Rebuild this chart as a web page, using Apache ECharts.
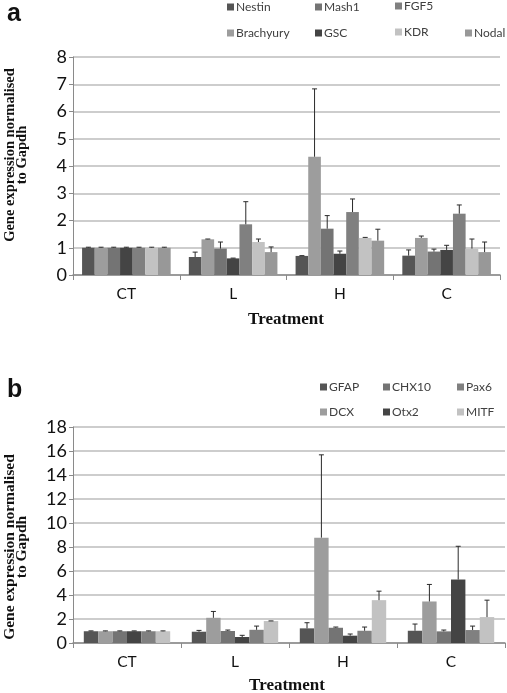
<!DOCTYPE html>
<html><head><meta charset="utf-8">
<script src="https://cdn.jsdelivr.net/npm/echarts@6/dist/echarts.min.js"></script>
<style>html,body{margin:0;padding:0;background:#fff}#c{width:507px;height:693px}</style>
</head><body><div id="c"></div>
<script>
// ---- Data ----
const categories = ['CT', 'L', 'H', 'C'];

// Panel a (bar order in each group)
const seriesA = ['Nestin', 'Brachyury', 'Mash1', 'GSC', 'FGF5', 'KDR', 'Nodal'];
const nestin    = [1, 0.66, 0.70, 0.71];
const brachyury = [1, 1.31, 4.34, 1.36];
const mash1     = [1, 0.97, 1.70, 0.86];
const gsc       = [1, 0.61, 0.78, 0.92];
const fgf5      = [1, 1.86, 2.31, 2.25];
const kdr       = [1, 1.21, 1.36, 0.97];
const nodal     = [1, 0.84, 1.26, 0.84];
const nestinErr    = [0.02, 0.18, 0.01, 0.21];
const brachyuryErr = [0.02, 0.01, 2.49, 0.07];
const mash1Err     = [0.02, 0.24, 0.48, 0.09];
const gscErr       = [0.02, 0.01, 0.10, 0.17];
const fgf5Err      = [0.02, 0.83, 0.48, 0.32];
const kdrErr       = [0.02, 0.11, 0.02, 0.35];
const nodalErr     = [0.02, 0.19, 0.42, 0.37];
const yTicksA = [0, 1, 2, 3, 4, 5, 6, 7, 8];

// Panel b
const seriesB = ['GFAP', 'DCX', 'CHX10', 'Otx2', 'Pax6', 'MITF'];
const gfap  = [0.98, 0.94, 1.22, 1.02];
const dcx   = [0.98, 2.10, 8.78, 3.46];
const chx10 = [0.98, 1.00, 1.27, 0.97];
const otx2  = [0.98, 0.50, 0.61, 5.29];
const pax6  = [0.98, 1.10, 1.02, 1.08];
const mitf  = [0.98, 1.83, 3.57, 2.16];
const gfapErr  = [0.03, 0.11, 0.47, 0.56];
const dcxErr   = [0.03, 0.53, 6.90, 1.42];
const chx10Err = [0.03, 0.08, 0.06, 0.11];
const otx2Err  = [0.03, 0.14, 0.14, 2.77];
const pax6Err  = [0.03, 0.31, 0.31, 0.33];
const mitfErr  = [0.03, 0.01, 0.75, 1.41];
const yTicksB = [0, 2, 4, 6, 8, 10, 12, 14, 16, 18];

// ---- Styles ----
const valsA = [nestin, brachyury, mash1, gsc, fgf5, kdr, nodal];
const errsA = [nestinErr, brachyuryErr, mash1Err, gscErr, fgf5Err, kdrErr, nodalErr];
const colorsA = ['#555555', '#9d9d9d', '#747474', '#444444', '#808080', '#c2c2c2', '#989898'];
const valsB = [gfap, dcx, chx10, otx2, pax6, mitf];
const errsB = [gfapErr, dcxErr, chx10Err, otx2Err, pax6Err, mitfErr];
const colorsB = ['#555555', '#9d9d9d', '#747474', '#444444', '#808080', '#c2c2c2'];

const FONT = 'Lato';
const gapA = 0.17, gapB = 0.20;

function errRender(idx, n, gap) {
  return function (params, api) {
    const cat = api.value(0), v = api.value(1), e = api.value(2);
    const band = api.size([1, 0])[0];
    const groupW = band * (1 - gap);
    const bw = groupW / n;
    const base = api.coord([cat, v]);
    const x = base[0] - groupW / 2 + bw * (idx + 0.5);
    const yTop = api.coord([cat, v + e])[1];
    const st = { stroke: '#2a2a2a', lineWidth: 1 };
    return { type: 'group', children: [
      { type: 'line', shape: { x1: x, y1: base[1], x2: x, y2: yTop }, style: st },
      { type: 'line', shape: { x1: x - 2.5, y1: yTop, x2: x + 2.5, y2: yTop }, style: st }
    ] };
  };
}

const series = [];
seriesA.forEach((name, i) => {
  series.push({ name, type: 'bar', xAxisIndex: 0, yAxisIndex: 0, data: valsA[i],
    barGap: 0, barCategoryGap: (gapA * 100) + '%', itemStyle: { color: colorsA[i] }, animation: false });
});
seriesA.forEach((name, i) => {
  series.push({ type: 'custom', xAxisIndex: 0, yAxisIndex: 0, z: 5, animation: false,
    renderItem: errRender(i, seriesA.length, gapA),
    data: categories.map((c, k) => [k, valsA[i][k], errsA[i][k]]) });
});
seriesB.forEach((name, i) => {
  series.push({ name, type: 'bar', xAxisIndex: 1, yAxisIndex: 1, data: valsB[i],
    barGap: 0, barCategoryGap: (gapB * 100) + '%', itemStyle: { color: colorsB[i] }, animation: false });
});
seriesB.forEach((name, i) => {
  series.push({ type: 'custom', xAxisIndex: 1, yAxisIndex: 1, z: 5, animation: false,
    renderItem: errRender(i, seriesB.length, gapB),
    data: categories.map((c, k) => [k, valsB[i][k], errsB[i][k]]) });
});

// Legend placements
const legendPosA = { Nestin: [227, 1], Mash1: [315, 1], FGF5: [395, 0], Brachyury: [227, 27], GSC: [315, 27], KDR: [395, 26], Nodal: [465, 27] };
const legendPosB = { GFAP: [320, 381], CHX10: [383, 381], Pax6: [457, 381], DCX: [320, 406], Otx2: [383, 406], MITF: [457, 406] };
const legends = [];
Object.entries(Object.assign({}, legendPosA, legendPosB)).forEach(([name, p]) => {
  legends.push({ data: [name], left: p[0], top: p[1], padding: 0, itemWidth: 7, itemHeight: 7,
    itemGap: 0, icon: 'rect', selectedMode: false,
    textStyle: { fontFamily: FONT, fontSize: 12, color: '#404040', padding: [0, 0, 0, -3] } });
});

function yAxis(gridIndex, max, interval) {
  return { type: 'value', gridIndex, min: 0, max, interval,
    axisLine: { show: true, lineStyle: { color: '#8a8a8a', width: 1 } },
    axisTick: { show: true, length: 4, lineStyle: { color: '#8a8a8a' } },
    axisLabel: { fontFamily: FONT, fontSize: 18, color: '#111', margin: 6 },
    splitLine: { lineStyle: { color: '#bdbdbd', width: 1.5 } } };
}
function xAxis(gridIndex) {
  return { type: 'category', gridIndex, data: categories,
    axisLine: { lineStyle: { color: '#8a8a8a', width: 1.5 } },
    axisTick: { show: true, length: 5, lineStyle: { color: '#8a8a8a' } },
    axisLabel: { fontFamily: FONT, fontSize: 15.5, color: '#111', margin: 11 } };
}

const option = {
  animation: false,
  grid: [
    { left: 73, right: 7, top: 57, bottom: 418 },
    { left: 73, right: 2, top: 427, bottom: 50 }
  ],
  xAxis: [xAxis(0), xAxis(1)],
  yAxis: [yAxis(0, 8, 1), yAxis(1, 18, 2)],
  legend: legends,
  series,
  graphic: [
    { type: 'text', left: 7, top: 2, style: { text: 'a', font: 'bold 25px "Liberation Sans"', fill: '#111' } },
    { type: 'text', left: 7, top: 378, style: { text: 'b', font: 'bold 25px "Liberation Sans"', fill: '#111' } },
    { type: 'text', x: 16, y: 155, rotation: Math.PI / 2,
      style: { text: 'Gene expression normalised\nto Gapdh', font: 'bold 14.5px "Liberation Serif"', lineHeight: 12.5,
        align: 'center', verticalAlign: 'middle', fill: '#111' } },
    { type: 'text', x: 16, y: 547, rotation: Math.PI / 2,
      style: { text: 'Gene expression normalised\nto Gapdh', font: 'bold 15.5px "Liberation Serif"', lineHeight: 12.5,
        align: 'center', verticalAlign: 'middle', fill: '#111' } },
    { type: 'text', x: 286, y: 320,
      style: { text: 'Treatment', font: 'bold 17px "Liberation Serif"', align: 'center', verticalAlign: 'middle', fill: '#111' } },
    { type: 'text', x: 287, y: 686,
      style: { text: 'Treatment', font: 'bold 17px "Liberation Serif"', align: 'center', verticalAlign: 'middle', fill: '#111' } }
  ]
};
const chart = echarts.init(document.getElementById('c'), null, { renderer: 'canvas' });
chart.setOption(option);
</script></body></html>
